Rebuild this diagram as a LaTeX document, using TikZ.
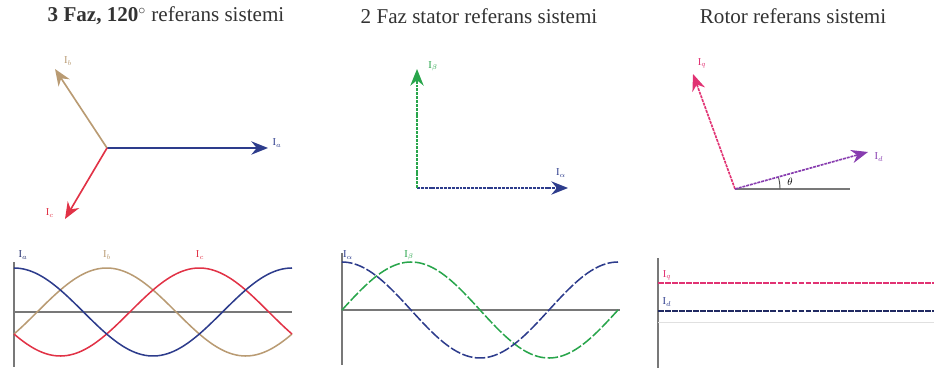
\documentclass[tikz,border=0pt]{standalone}
\usepackage{fontspec}
\setmainfont{Liberation Serif}
\usetikzlibrary{arrows.meta, angles}

\definecolor{cA}{RGB}{45,60,140}
\definecolor{cB}{RGB}{185,155,115}
\definecolor{cC}{RGB}{225,50,70}
\definecolor{cG}{RGB}{40,165,75}
\definecolor{cQ}{RGB}{225,50,115}
\definecolor{cD}{RGB}{135,60,175}
\definecolor{cAx}{RGB}{120,120,120}

\tikzset{
  title/.style={font=\fontsize{18}{21}\selectfont, text=black!80},
  lbl/.style={font=\fontsize{9}{10}\selectfont, inner sep=1pt},
  vec/.style={line width=1.4pt, -{Stealth[length=5mm, width=4mm]}},
  dvec/.style={vec, dash pattern=on 2.5pt off 0.8pt},
  axis/.style={cAx, line width=1.2pt},
  wave/.style={line width=1.3pt, smooth, samples=90, variable=\t},
  dwave/.style={wave, dash pattern=on 9pt off 2pt},
}

\begin{document}
\begin{tikzpicture}[x=0.03cm, y=-0.03cm]
  \useasboundingbox (0,0) rectangle (934,373);

  % ---- 3 phase, 120 deg ----
  \node[title] (t1) at (166,16) {\textbf{3 Faz, 120$^{\circ}$} referans sistemi};
  \coordinate (o1) at (107,148);
  \coordinate (ia) at (268,148);
  \coordinate (ib) at (55,69);
  \coordinate (ic) at (65,219);
  \draw[vec, cA] (o1) -- (ia);
  \draw[vec, cB] (o1) -- (ib);
  \draw[vec, cC] (o1) -- (ic);
  \node[lbl, cA] (lia) at (277,143) {I$_a$};
  \node[lbl, cB] (lib) at (68,61) {I$_b$};
  \node[lbl, cC] (lic) at (50,213) {I$_c$};

  % waveforms, period = 278
  \coordinate (v1t) at (14,262);
  \coordinate (v1b) at (14,367);
  \coordinate (h1l) at (14,312);
  \coordinate (h1r) at (292,312);
  \draw[axis] (v1t) -- (v1b);
  \draw[axis] (h1l) -- (h1r);
  \foreach \ph/\col in {120/cB, 240/cC, 0/cA} {
    \draw[wave, \col, domain=0:360] plot ({14+\t/360*278}, {312-44*cos(\t-\ph)});
  }
  \node[lbl, cA!80!black] (wa) at (23,255) {I$_a$};
  \node[lbl, cB] (wb) at (107,255) {I$_b$};
  \node[lbl, cC] (wc) at (200,255) {I$_c$};

  % ---- 2 phase stator ----
  \node[title] (t2) at (479,16) {2 Faz stator referans sistemi};
  \coordinate (o2) at (417,188);
  \coordinate (ial) at (568,188);
  \coordinate (ibe) at (417,69);
  \draw[dvec, cA] (o2) -- (ial);
  \draw[dvec, cG] (o2) -- (ibe);
  \node[lbl, cA] (lial) at (561,173) {I$_\alpha$};
  \node[lbl, cG] (libe) at (433,66) {I$_\beta$};

  % waveforms, period = 276
  \coordinate (v2t) at (342,253);
  \coordinate (v2b) at (342,365);
  \coordinate (h2l) at (342,310);
  \coordinate (h2r) at (620,310);
  \draw[axis] (v2t) -- (v2b);
  \draw[axis] (h2l) -- (h2r);
  \draw[dwave, cG, domain=0:360] plot ({342+\t/360*276}, {310-48*sin(\t)});
  \draw[dwave, cA, domain=0:360] plot ({342+\t/360*276}, {310-48*cos(\t)});
  \node[lbl, cA] (wal) at (348,255) {I$_\alpha$};
  \node[lbl, cG] (wbe) at (409,255) {I$_\beta$};

  % ---- rotor ----
  \node[title] (t3) at (793,16) {Rotor referans sistemi};
  \coordinate (o3) at (735,189);
  \coordinate (x3) at (850,189);
  \coordinate (iq) at (693,74);
  \coordinate (id) at (868,152);
  \draw[axis, line width=1pt] (o3) -- (x3);
  \pic[draw=black!70, line width=0.8pt, angle radius=1.35cm] {angle = x3--o3--id};
  \draw[dvec, cQ] (o3) -- (iq);
  \draw[dvec, cD] (o3) -- (id);
  \node[lbl, cQ] (liq) at (702,63) {I$_q$};
  \node[lbl, cD] (lid) at (879,157) {I$_d$};
  \node[lbl] (th) at (790,182) {$\theta$};

  % constant dq currents
  \coordinate (v3t) at (658,258);
  \coordinate (v3b) at (658,368);
  \coordinate (q3l) at (658,283);
  \coordinate (q3r) at (934,283);
  \coordinate (d3l) at (658,311);
  \coordinate (d3r) at (934,311);
  \coordinate (g3l) at (658,322);
  \coordinate (g3r) at (934,322);
  \draw[axis] (v3t) -- (v3b);
  \draw[black!12, line width=0.6pt] (g3l) -- (g3r);
  \draw[cQ, line width=1.3pt, dash pattern=on 5pt off 1pt] (q3l) -- (q3r);
  \draw[cA!70!black, line width=1.5pt, dash pattern=on 5pt off 1pt] (d3l) -- (d3r);
  \node[lbl, cQ] (wq) at (667,275) {I$_q$};
  \node[lbl, cA] (wd) at (667,302) {I$_d$};

\end{tikzpicture}
\end{document}
